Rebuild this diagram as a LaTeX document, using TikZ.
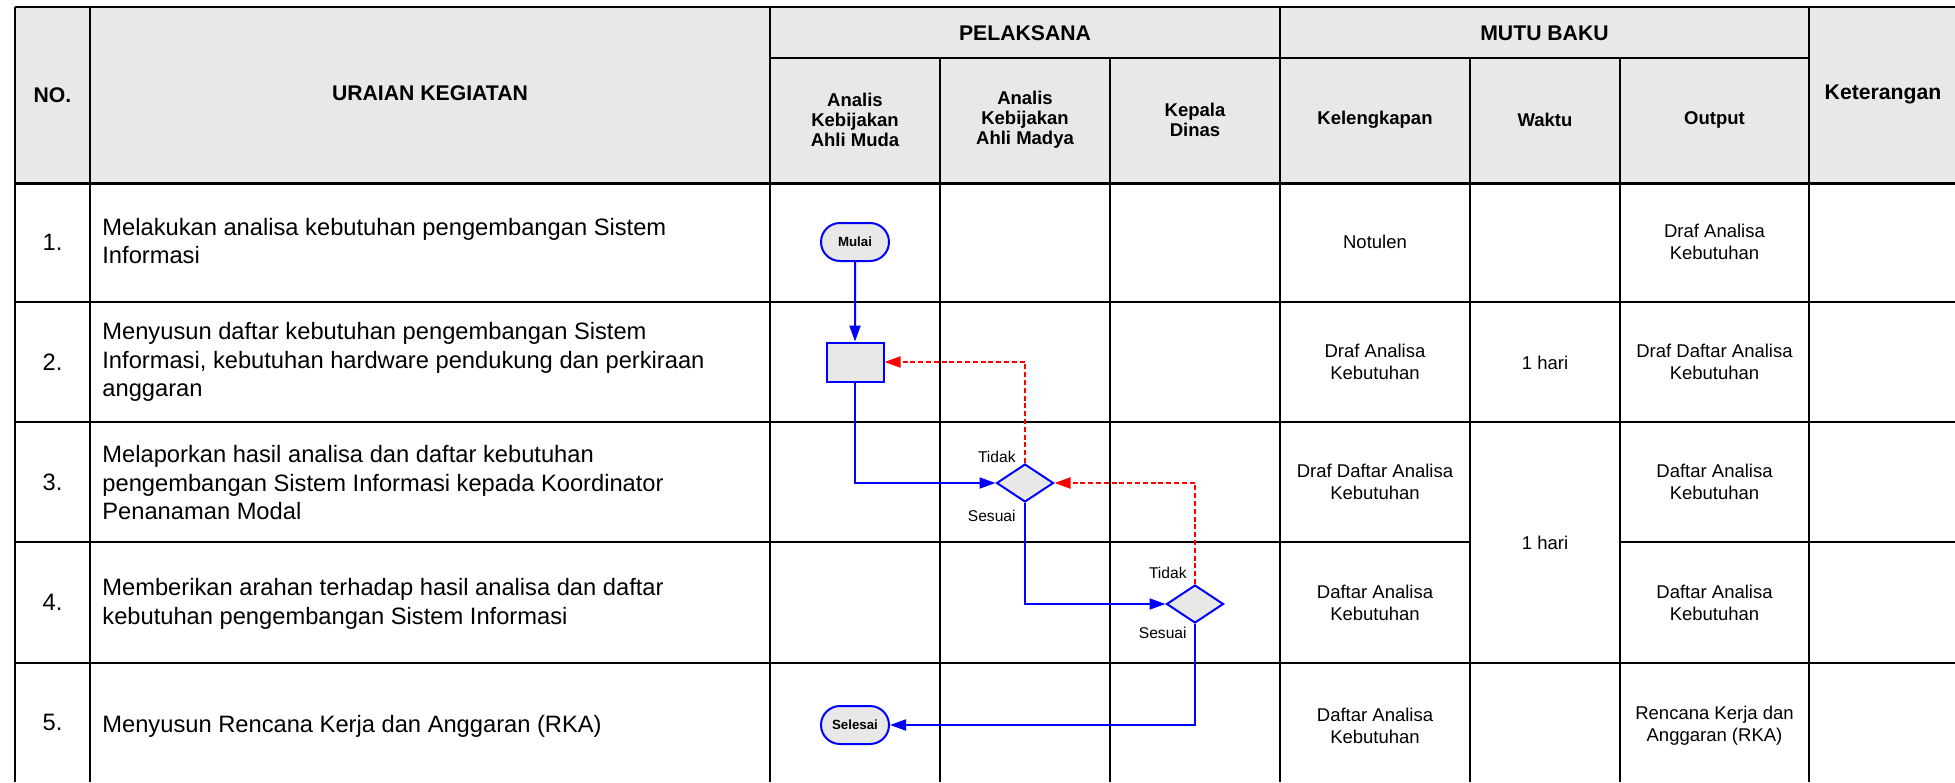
\documentclass[tikz,border=0pt]{standalone}
\usepackage{fontspec}
\setmainfont{Liberation Sans}
\usetikzlibrary{shapes.geometric,shapes.misc,arrows.meta}
\definecolor{hdrgray}{RGB}{232,232,232}
\definecolor{fblue}{RGB}{0,0,255}
\definecolor{fred}{RGB}{255,0,0}
\tikzset{
  gridline/.style={line width=1.1pt, black},
  hdr/.style={font=\fontsize{10.6}{12.5}\selectfont\bfseries, align=center, inner sep=0pt},
  subhdr/.style={font=\fontsize{9.25}{10}\selectfont\bfseries, align=center, inner sep=0pt},
  desc/.style={font=\fontsize{11.85}{14.25}\selectfont, align=left, anchor=west, inner sep=0pt},
  num/.style={font=\fontsize{11.85}{14.25}\selectfont, inner sep=0pt},
  cell/.style={font=\fontsize{9.25}{11}\selectfont, align=center, inner sep=0pt},
  lbl/.style={font=\fontsize{7.8}{9}\selectfont, inner sep=0pt, anchor=east},
  term/.style={rounded rectangle, draw=fblue, line width=1pt, fill=hdrgray,
    minimum width=34pt, minimum height=19pt, inner sep=0pt,
    font=\fontsize{6.65}{8}\selectfont\bfseries},
  proc/.style={rectangle, draw=fblue, line width=1pt, fill=hdrgray,
    minimum width=28.5pt, minimum height=19.5pt, inner sep=0pt},
  dec/.style={diamond, draw=fblue, line width=1pt, fill=hdrgray,
    minimum width=28.5pt, minimum height=19pt, inner sep=0pt},
  flow/.style={draw=fblue, line width=1pt, -{Triangle[length=8pt,width=5.5pt]}},
  back/.style={draw=fred, line width=1pt, dash pattern=on 2.5pt off 1.4pt,
    -{Triangle[length=8pt,width=5.5pt]}},
}
\begin{document}
\begin{tikzpicture}[x=0.5pt,y=-0.5pt]
\useasboundingbox (0,0) rectangle (1955,782);
% header background
\fill[hdrgray] (15,7) rectangle (1955,183);
% horizontal lines
\draw[gridline] (15,7) -- (1955,7);
\draw[gridline] (770,58) -- (1809,58);
\draw[gridline, line width=1.5pt] (15,183) -- (1955,183);
\draw[gridline] (15,302) -- (1955,302);
\draw[gridline] (15,422) -- (1955,422);
\draw[gridline] (15,542) -- (1470,542);
\draw[gridline] (1620,542) -- (1955,542);
\draw[gridline] (15,663) -- (1955,663);
% vertical lines
\foreach \x in {15,90,770,1280,1809} \draw[gridline] (\x,7) -- (\x,782);
\foreach \x in {940,1110,1470,1620} \draw[gridline] (\x,58) -- (\x,782);

% headers
\node[hdr] (hno) at (52.5,95) {NO.};
\node[hdr] (hur) at (430,93) {URAIAN KEGIATAN};
\node[hdr] (hpel) at (1025,33) {PELAKSANA};
\node[hdr] (hmb) at (1544.5,33) {MUTU BAKU};
\node[hdr] (hket) at (1883,94) {Keterangan};
\node[subhdr] (hmuda) at (855,120) {Analis\\Kebijakan\\Ahli Muda};
\node[subhdr] (hmadya) at (1025,120) {Analis\\Kebijakan\\Ahli Madya};
\node[subhdr] (hkadis) at (1195,120) {Kepala\\Dinas};
\node[subhdr] (hkel) at (1375,120) {Kelengkapan};
\node[subhdr] (hwak) at (1545,120) {Waktu};
\node[subhdr] (hout) at (1714.5,120) {Output};

% numbers
\node[num] (n1) at (52.5,242.5) {1.};
\node[num] (n2) at (52.5,362) {2.};
\node[num] (n3) at (52.5,482) {3.};
\node[num] (n4) at (52.5,602.5) {4.};
\node[num] (n5) at (52.5,722.5) {5.};

% descriptions
\node[desc] (d1t) at (102,241) {Melakukan analisa kebutuhan pengembangan Sistem\\Informasi};
\node[desc] (d2t) at (102,362) {Menyusun daftar kebutuhan pengembangan Sistem\\Informasi, kebutuhan hardware pendukung dan perkiraan\\anggaran};
\node[desc] (d3t) at (102,483) {Melaporkan hasil analisa dan daftar kebutuhan\\pengembangan Sistem Informasi kepada Koordinator\\Penanaman Modal};
\node[desc] (d4t) at (102,604) {Memberikan arahan terhadap hasil analisa dan daftar\\kebutuhan pengembangan Sistem Informasi};
\node[desc] (d5t) at (102,726) {Menyusun Rencana Kerja dan Anggaran (RKA)};

% kelengkapan
\node[cell] (k1) at (1375,242) {Notulen};
\node[cell] (k2) at (1375,362) {Draf Analisa\\Kebutuhan};
\node[cell] (k3) at (1375,482) {Draf Daftar Analisa\\Kebutuhan};
\node[cell] (k4) at (1375,603) {Daftar Analisa\\Kebutuhan};
\node[cell] (k5) at (1375,726) {Daftar Analisa\\Kebutuhan};
% waktu
\node[cell] (w2) at (1545,363) {1 hari};
\node[cell] (w34) at (1545,543) {1 hari};
% output
\node[cell] (o1) at (1714.5,241.5) {Draf Analisa\\Kebutuhan};
\node[cell] (o2) at (1714.5,362) {Draf Daftar Analisa\\Kebutuhan};
\node[cell] (o3) at (1714.5,482) {Daftar Analisa\\Kebutuhan};
\node[cell] (o4) at (1714.5,603) {Daftar Analisa\\Kebutuhan};
\node[cell] (o5) at (1714.5,726) {Rencana Kerja dan\\Anggaran (RKA)};

% flowchart shapes
\node[term] (mulai) at (855,242) {Mulai};
\node[proc] (proc) at (855,362) {};
\node[dec] (dd1) at (1025,483) {};
\node[dec] (dd2) at (1195,604) {};
\node[term] (selesai) at (855,725) {Selesai};

% labels
\node[lbl] (t1) at (1016,457) {Tidak};
\node[lbl] (s1) at (1016,516) {Sesuai};
\node[lbl] (t2) at (1187,573) {Tidak};
\node[lbl] (s2) at (1187,633) {Sesuai};

% connectors
\draw[flow] (mulai) -- (proc);
\draw[flow] (proc.south) |- (dd1.west);
\draw[flow] (dd1.south) |- (dd2.west);
\draw[flow] (dd2.south) |- (selesai.east);
\draw[back] (dd1.north) |- (proc.east);
\draw[back] (dd2.north) |- (dd1.east);
\end{tikzpicture}
\end{document}
